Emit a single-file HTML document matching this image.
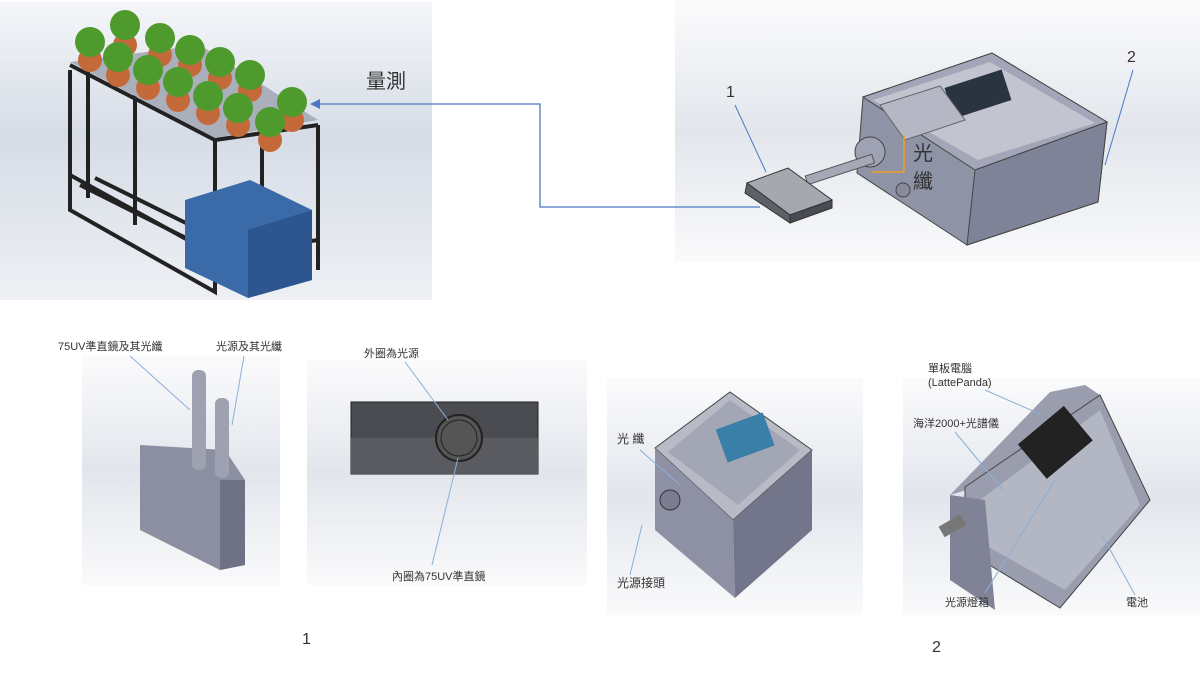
<!DOCTYPE html>
<html><head><meta charset="utf-8"><style>
body{margin:0;background:#fff;width:1200px;height:675px;overflow:hidden}
svg text{font-family:"Liberation Sans","Noto Sans CJK TC",sans-serif;fill:#333}
</style></head><body>
<svg width="1200" height="675" viewBox="0 0 1200 675" xmlns="http://www.w3.org/2000/svg">
<defs>
<linearGradient id="bg" x1="0" y1="0" x2="0" y2="1">
<stop offset="0" stop-color="#f4f6f9"/><stop offset="0.45" stop-color="#d6dce6"/><stop offset="1" stop-color="#eef0f4"/></linearGradient>
<linearGradient id="bg2" x1="0" y1="0" x2="0" y2="1">
<stop offset="0" stop-color="#fbfbfc"/><stop offset="0.5" stop-color="#e2e6ec"/><stop offset="1" stop-color="#fafafb"/></linearGradient>
</defs>
<!-- top-left panel -->
<rect x="0" y="2" width="432" height="298" fill="url(#bg)"/>
<g stroke="#222" stroke-width="4" fill="none">
<polyline points="70,70 70,210 215,292 215,140"/>
<line x1="88" y1="68" x2="88" y2="198"/><line x1="135" y1="95" x2="135" y2="225"/>
<line x1="262" y1="118" x2="262" y2="290"/><line x1="318" y1="125" x2="318" y2="270"/>
<polyline points="70,65 215,140 318,125"/>
<polyline points="70,175 215,255 318,240"/>
<line x1="80" y1="185" x2="190" y2="240"/><line x1="95" y1="178" x2="200" y2="230"/>
</g>
<polygon points="70,62 200,45 318,120 215,138" fill="#aab0bb"/>
<polygon points="185,200 250,180 312,210 312,280 248,298 185,268" fill="#3b6aa8"/>
<polygon points="248,230 312,210 312,280 248,298" fill="#2d5690"/>
<g fill="#c46a3a">
<circle cx="90" cy="60" r="12"/><circle cx="125" cy="45" r="12"/><circle cx="160" cy="55" r="12"/><circle cx="190" cy="65" r="12"/><circle cx="220" cy="78" r="12"/><circle cx="250" cy="90" r="12"/>
<circle cx="118" cy="75" r="12"/><circle cx="148" cy="88" r="12"/><circle cx="178" cy="100" r="12"/><circle cx="208" cy="113" r="12"/><circle cx="238" cy="125" r="12"/><circle cx="270" cy="140" r="12"/><circle cx="292" cy="120" r="12"/></g>
<g fill="#4e9a2c">
<circle cx="90" cy="42" r="15"/><circle cx="125" cy="25" r="15"/><circle cx="160" cy="38" r="15"/><circle cx="190" cy="50" r="15"/><circle cx="220" cy="62" r="15"/><circle cx="250" cy="75" r="15"/>
<circle cx="118" cy="57" r="15"/><circle cx="148" cy="70" r="15"/><circle cx="178" cy="82" r="15"/><circle cx="208" cy="96" r="15"/><circle cx="238" cy="108" r="15"/><circle cx="270" cy="122" r="15"/><circle cx="292" cy="102" r="15"/></g>
<text x="366" y="88" font-size="20">量測</text>
<!-- top-right panel -->
<rect x="675" y="0" width="525" height="262" fill="url(#bg2)"/>
<polygon points="863,97 992,53 1107,122 1098,202 967,245 857,173" fill="#8f93a6" stroke="#444"/>
<polygon points="863,97 992,53 1107,122 975,170" fill="#a3a6b8" stroke="#444"/>
<polygon points="975,170 1107,122 1098,202 967,245" fill="#7f8398" stroke="#444"/>
<polygon points="873,100 990,62 1095,123 978,160" fill="#c2c5d0"/>
<rect x="948" y="78" width="60" height="32" fill="#2a3340" transform="rotate(-18 978 94)"/>
<polygon points="880,105 940,86 965,120 905,140" fill="#b5b8c4" stroke="#666"/>
<circle cx="870" cy="152" r="15" fill="#9fa2b2" stroke="#444"/>
<rect x="805" y="165" width="70" height="9" fill="#a5a8b5" stroke="#555" transform="rotate(-18 840 170)"/>
<circle cx="903" cy="190" r="7" fill="#888b9c" stroke="#444"/>
<polygon points="747,183 788,168 832,200 790,215" fill="#a6a8b0" stroke="#333"/>
<polygon points="747,183 790,215 790,223 745,193" fill="#5e6068" stroke="#333"/>
<polygon points="790,215 832,200 832,208 790,223" fill="#4a4c54" stroke="#333"/>
<text x="726" y="97" font-size="16">1</text>
<text x="1127" y="62" font-size="16">2</text>
<text x="913" y="160" font-size="20">光</text>
<text x="913" y="188" font-size="20">纖</text>
<polyline points="904,135 904,172 872,172" fill="none" stroke="#f0a020" stroke-width="1.5"/>
<line x1="735" y1="105" x2="766" y2="172" stroke="#4a78c4"/>
<line x1="1133" y1="70" x2="1105" y2="165" stroke="#4a78c4"/>
<!-- arrow -->
<polyline points="760,207 540,207 540,104 316,104" fill="none" stroke="#4a78c4" stroke-width="1.3"/>
<polygon points="310,104 320,99 320,109" fill="#4a78c4"/>
<!-- bottom panel 1 -->
<rect x="82" y="355" width="198" height="230" fill="url(#bg2)"/>
<polygon points="140,445 225,450 245,480 245,565 220,570 140,530" fill="#8c8fa2"/>
<polygon points="220,480 245,480 245,565 220,570" fill="#6e7284"/>
<rect x="192" y="370" width="14" height="100" fill="#9ea1b0" rx="6"/>
<rect x="215" y="398" width="14" height="80" fill="#9ea1b0" rx="6"/>
<text x="58" y="350" font-size="11">75UV準直鏡及其光纖</text>
<text x="216" y="350" font-size="11">光源及其光纖</text>
<line x1="130" y1="356" x2="190" y2="410" stroke="#8ab0d8"/>
<line x1="244" y1="356" x2="232" y2="425" stroke="#8ab0d8"/>
<!-- bottom panel 2 -->
<rect x="307" y="360" width="280" height="225" fill="url(#bg2)"/>
<rect x="351" y="402" width="187" height="72" fill="#4b4c52" stroke="#222"/>
<rect x="351" y="438" width="187" height="36" fill="#5a5b61"/>
<circle cx="459" cy="438" r="23" fill="#555" stroke="#222" stroke-width="2"/>
<circle cx="459" cy="438" r="18" fill="#555" stroke="#222"/>
<text x="364" y="357" font-size="11">外圈為光源</text>
<text x="392" y="580" font-size="11">內圈為75UV準直鏡</text>
<line x1="405" y1="362" x2="448" y2="420" stroke="#8ab0d8"/>
<line x1="432" y1="565" x2="458" y2="458" stroke="#8ab0d8"/>
<!-- bottom panel 3 -->
<rect x="607" y="378" width="256" height="237" fill="url(#bg2)"/>
<polygon points="655,448 730,392 812,450 733,520" fill="#b8bac6" stroke="#444"/>
<polygon points="655,448 733,520 735,598 655,530" fill="#8e91a3"/>
<polygon points="733,520 812,450 812,530 735,598" fill="#73768a"/>
<polygon points="668,452 730,400 800,450 738,505" fill="#a3a6b4"/>
<rect x="720" y="420" width="50" height="35" fill="#3a7fa8" transform="rotate(-20 745 437)"/>
<circle cx="670" cy="500" r="10" fill="#7a7d8f" stroke="#333"/>
<text x="617" y="443" font-size="12">光 纖</text>
<text x="617" y="587" font-size="12">光源接頭</text>
<line x1="640" y1="450" x2="680" y2="485" stroke="#8ab0d8"/>
<line x1="630" y1="575" x2="642" y2="525" stroke="#8ab0d8"/>
<!-- bottom panel 4 -->
<rect x="903" y="378" width="297" height="237" fill="url(#bg2)"/>
<polygon points="950,495 1000,480 1100,395 1085,385 1050,392" fill="#9a9dae"/>
<polygon points="965,487 1100,395 1150,500 1060,608 965,550" fill="#9a9dae" stroke="#444"/>
<polygon points="980,500 1100,410 1140,505 1065,590 985,545" fill="#b3b6c3"/>
<rect x="1025" y="420" width="60" height="45" fill="#222" transform="rotate(-40 1055 442)"/>
<polygon points="950,495 985,500 995,610 950,580" fill="#808395"/>
<rect x="940" y="520" width="25" height="12" fill="#777" transform="rotate(-30 952 526)"/>
<text x="928" y="372" font-size="11">單板電腦</text>
<text x="928" y="386" font-size="11">(LattePanda)</text>
<text x="913" y="427" font-size="11">海洋2000+光譜儀</text>
<text x="945" y="606" font-size="11">光源燈箱</text>
<text x="1126" y="606" font-size="11">電池</text>
<line x1="985" y1="390" x2="1042" y2="415" stroke="#8ab0d8"/>
<line x1="955" y1="432" x2="1003" y2="490" stroke="#8ab0d8"/>
<line x1="985" y1="593" x2="1055" y2="480" stroke="#8ab0d8"/>
<line x1="1135" y1="595" x2="1102" y2="535" stroke="#8ab0d8"/>
<text x="302" y="644" font-size="16">1</text>
<text x="932" y="652" font-size="16">2</text>
</svg>
</body></html>
